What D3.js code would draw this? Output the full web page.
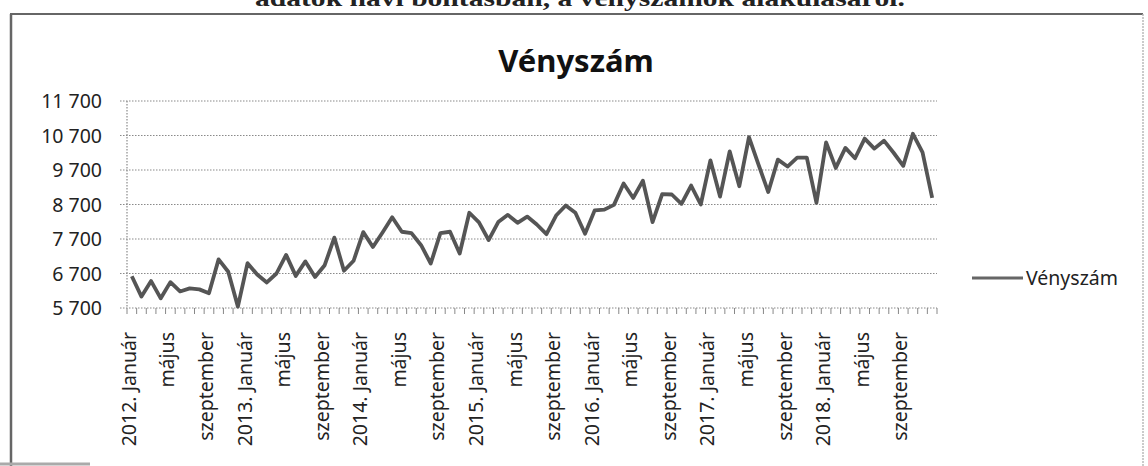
<!DOCTYPE html>
<html>
<head>
<meta charset="utf-8">
<script src="https://cdn.jsdelivr.net/npm/d3@7"></script>
<style>
  body { margin: 0; background: #fff; }
  svg { display: block; font-family: "Noto Sans", sans-serif; }
</style>
</head>
<body>
<div id="chart"></div>
<script>
// chart data
var seriesName = "Vényszám";
var years = [2012, 2013, 2014, 2015, 2016, 2017, 2018];
var monthNames = ["Január", "február", "március", "április", "május", "június",
    "július", "augusztus", "szeptember", "október", "november", "december"];
var v2012 = [6620, 6030, 6480, 5980, 6450, 6180, 6270, 6240, 6130, 7110, 6750, 5740];
var v2013 = [7000, 6670, 6440, 6700, 7240, 6630, 7050, 6600, 6940, 7740, 6780, 7070];
var v2014 = [7900, 7470, 7890, 8330, 7910, 7870, 7520, 6990, 7870, 7910, 7280, 8460];
var v2015 = [8180, 7670, 8190, 8400, 8170, 8350, 8120, 7840, 8380, 8670, 8460, 7850];
var v2016 = [8530, 8550, 8690, 9310, 8890, 9390, 8190, 9000, 8990, 8720, 9250, 8700];
var v2017 = [9980, 8930, 10240, 9230, 10650, 9850, 9060, 10000, 9800, 10060, 10060, 8750];
var v2018 = [10500, 9760, 10340, 10040, 10610, 10320, 10550, 10200, 9820, 10750, 10210, 8890];
var yTicks = [5700, 6700, 7700, 8700, 9700, 10700, 11700];
var pageLine = "adatok havi bontásban, a vényszámok alakulásáról.";

var yearValues = [v2012, v2013, v2014, v2015, v2016, v2017, v2018];
var data = [];
years.forEach(function (yr, yi) {
    yearValues[yi].forEach(function (v, mi) {
        data.push({
            key: yr + "-" + mi,
            label: mi === 0 ? yr + ". " + monthNames[0] : monthNames[mi],
            idx: yi * 12 + mi,
            value: v
        });
    });
});

var W = 1148, H = 466;
var svg = d3.select("#chart").append("svg")
    .attr("width", W)
    .attr("height", H);

// scanned page: cut-off text line above the chart
svg.append("text")
    .attr("x", 255)
    .attr("y", 6)
    .attr("textLength", 650)
    .attr("lengthAdjust", "spacingAndGlyphs")
    .style("font-family", "'Liberation Serif', 'DejaVu Serif', serif")
    .style("font-weight", "bold")
    .style("font-size", "23px")
    .style("fill", "#222")
    .text(pageLine);

// chart frame (left, top, right edges; bottom is off the scan)
svg.append("line")
    .attr("x1", 11).attr("x2", 11)
    .attr("y1", 14).attr("y2", 466)
    .attr("stroke", "#666").attr("stroke-width", 2.5);
svg.append("line")
    .attr("x1", 10).attr("x2", 1143)
    .attr("y1", 14).attr("y2", 14)
    .attr("stroke", "#666").attr("stroke-width", 2);
svg.append("line")
    .attr("x1", 1143).attr("x2", 1143)
    .attr("y1", 14).attr("y2", 466)
    .attr("stroke", "#bbb").attr("stroke-width", 1.5)
    .attr("stroke-dasharray", "2,1");
svg.append("line")
    .attr("x1", 0).attr("x2", 90)
    .attr("y1", 464).attr("y2", 464)
    .attr("stroke", "#aaa").attr("stroke-width", 3);

// title
svg.append("text")
    .attr("x", 576)
    .attr("y", 72)
    .style("text-anchor", "middle")
    .style("font-size", "31px")
    .style("font-weight", "bold")
    .style("fill", "#111")
    .text(seriesName);

// scales
var x = d3.scaleBand()
    .domain(data.map(function (d) { return d.key; }))
    .range([127, 937]);
var y = d3.scaleLinear()
    .domain([5700, 11700])
    .range([308, 101]);
var bw = x.bandwidth();
function cx(d) { return x(d.key) + bw / 2; }

// horizontal gridlines + y labels
var fmt = d3.formatLocale({ decimal: ",", thousands: " ", grouping: [3], currency: ["", ""] }).format(",d");
svg.append("g").selectAll("line")
    .data(yTicks).enter().append("line")
    .attr("x1", 120)
    .attr("x2", 937)
    .attr("y1", function (d) { return y(d); })
    .attr("y2", function (d) { return y(d); })
    .attr("stroke", "#8a8a8a")
    .attr("stroke-width", 1.2)
    .attr("stroke-dasharray", "1.5,1.5");
svg.append("g").selectAll("text")
    .data(yTicks).enter().append("text")
    .attr("x", 102)
    .attr("y", function (d) { return y(d); })
    .attr("dy", "0.36em")
    .style("text-anchor", "end")
    .style("font-size", "19.5px")
    .style("fill", "#222")
    .text(function (d) { return fmt(d); });

// y axis line (dotted)
svg.append("line")
    .attr("x1", 127).attr("x2", 127)
    .attr("y1", y(11700)).attr("y2", y(5700))
    .attr("stroke", "#8a8a8a")
    .attr("stroke-width", 1.2)
    .attr("stroke-dasharray", "1.5,1.5");

// x axis ticks at category boundaries
var bounds = data.map(function (d) { return x(d.key); }).concat([937]);
svg.append("g").selectAll("line")
    .data(bounds).enter().append("line")
    .attr("x1", function (d) { return d; })
    .attr("x2", function (d) { return d; })
    .attr("y1", y(5700))
    .attr("y2", y(5700) + 6)
    .attr("stroke", "#888")
    .attr("stroke-width", 1);

// x labels, every 4th month
svg.append("g").selectAll("text")
    .data(data.filter(function (d) { return d.idx % 4 === 0; }))
    .enter().append("text")
    .attr("transform", function (d) {
        return "translate(" + (cx(d) + 4) + ",332) rotate(-90)";
    })
    .style("text-anchor", "end")
    .style("font-size", "19.5px")
    .style("fill", "#222")
    .text(function (d) { return d.label; });

// the series line
var valueline = d3.line()
    .x(function (d) { return cx(d); })
    .y(function (d) { return y(d.value); });
svg.append("path")
    .datum(data)
    .attr("d", valueline)
    .attr("fill", "none")
    .attr("stroke", "#555")
    .attr("stroke-width", 3.8)
    .attr("stroke-linejoin", "round");

// legend
svg.append("line")
    .attr("x1", 972).attr("x2", 1023)
    .attr("y1", 278).attr("y2", 278)
    .attr("stroke", "#666")
    .attr("stroke-width", 3);
svg.append("text")
    .attr("x", 1026)
    .attr("y", 285)
    .style("font-size", "19.5px")
    .style("fill", "#222")
    .text(seriesName);
</script>
</body>
</html>
